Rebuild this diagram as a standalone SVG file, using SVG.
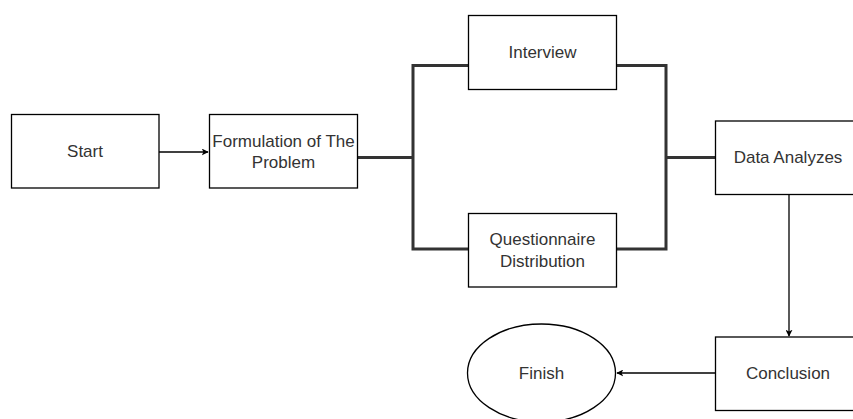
<svg xmlns="http://www.w3.org/2000/svg" width="853" height="419" viewBox="0 0 853 419">
<style>
.box{fill:#fff;stroke:#000;stroke-width:1.3}
.lbl{font-family:"Liberation Sans",Arial,sans-serif;font-size:17px;fill:#333;text-anchor:middle}
.thin{fill:none;stroke:#000;stroke-width:1.3}
.thick{fill:none;stroke:#333;stroke-width:3}
</style>
<defs>
<marker id="ah" viewBox="0 0 10 10" refX="9" refY="5" markerWidth="7" markerHeight="7" markerUnits="userSpaceOnUse" orient="auto">
<path d="M0,0 L10,5 L0,10 L2.5,5 Z" fill="#000"/>
</marker>
</defs>
<rect width="853" height="419" fill="#fff"/>
<g id="connectors">
<line class="thin" x1="159" y1="152" x2="208" y2="152" marker-end="url(#ah)"/>
<path class="thick" d="M358,157.5 H413 M468,65.5 H413 V249 H468 M617,65.5 H666 V249 H617 M666,157.5 H715"/>
<line class="thin" x1="789" y1="194" x2="789" y2="336" marker-end="url(#ah)"/>
<line class="thin" x1="715" y1="373" x2="617" y2="373" marker-end="url(#ah)"/>
</g>
<g id="start"><rect class="box" x="11.5" y="114.5" width="147.5" height="73.5"/><text class="lbl" x="85" y="157">Start</text></g>
<g id="formulation"><rect class="box" x="209.5" y="114.5" width="148" height="73.5"/><text class="lbl" x="283.5" y="147">Formulation of The</text><text class="lbl" x="283.5" y="168">Problem</text></g>
<g id="interview"><rect class="box" x="468.5" y="15.5" width="148" height="74"/><text class="lbl" x="542.5" y="58">Interview</text></g>
<g id="questionnaire"><rect class="box" x="468.5" y="213.5" width="148" height="73.5"/><text class="lbl" x="542.5" y="245">Questionnaire</text><text class="lbl" x="542.5" y="267">Distribution</text></g>
<g id="data-analyzes"><rect class="box" x="715.5" y="121" width="148" height="73.5"/><text class="lbl" x="788" y="163">Data Analyzes</text></g>
<g id="conclusion"><rect class="box" x="715.5" y="337" width="148" height="73.5"/><text class="lbl" x="788" y="379">Conclusion</text></g>
<g id="finish"><ellipse class="box" cx="541.5" cy="373" rx="74" ry="49"/><text class="lbl" x="541.5" y="379">Finish</text></g>
</svg>
